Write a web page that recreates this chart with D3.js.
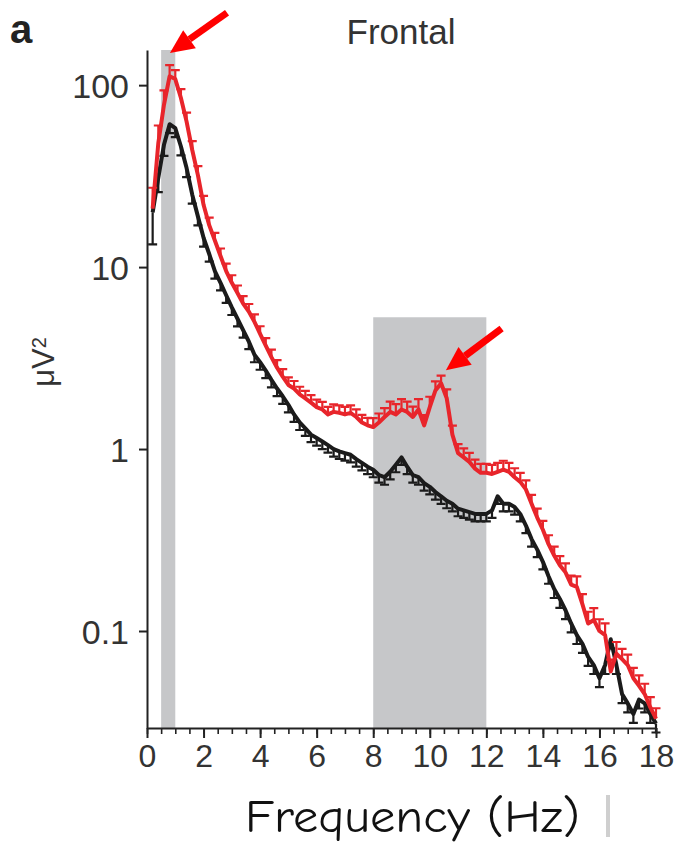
<!DOCTYPE html>
<html>
<head>
<meta charset="utf-8">
<script src="https://cdn.jsdelivr.net/npm/d3@7"></script>
<style>
  body { margin:0; background:#fff; }
  svg { display:block; }
  text { font-family:"Liberation Sans", Arial, Helvetica, sans-serif; }
</style>
</head>
<body>
<script>

// frequency bins (Hz)
var freqs=[0.2,0.4,0.6,0.8,1.0,1.2,1.4,1.6,1.8,2.0,
	2.2,2.4,2.6,2.8,3.0,3.2,3.4,3.6,3.8,4.0,
	4.2,4.4,4.6,4.8,5.0,5.2,5.4,5.6,5.8,6.0,
	6.2,6.4,6.6,6.8,7.0,7.2,7.4,7.6,7.8,8.0,
	8.2,8.4,8.6,8.8,9.0,9.2,9.4,9.6,9.8,10.0,
	10.2,10.4,10.6,10.8,11.0,11.2,11.4,11.6,11.8,12.0,
	12.2,12.4,12.6,12.8,13.0,13.2,13.4,13.6,13.8,14.0,
	14.2,14.4,14.6,14.8,15.0,15.2,15.4,15.6,15.8,16.0,
	16.2,16.4,16.6,16.8,17.0,17.2,17.4,17.6,17.8,18.0];

// red series (uV^2)
var redPower=[21,48,78,112,108,85,63,44,32,22,
	17,14,11.5,9.5,8.2,7.2,6.3,5.7,5.0,4.3,
	3.7,3.2,2.8,2.5,2.25,2.15,2.0,1.9,1.8,1.7,
	1.65,1.55,1.6,1.58,1.55,1.58,1.5,1.4,1.35,1.32,
	1.4,1.5,1.6,1.55,1.65,1.6,1.5,1.65,1.35,1.7,
	2.1,2.3,1.9,1.2,0.95,0.9,0.85,0.78,0.74,0.74,
	0.73,0.75,0.77,0.75,0.7,0.66,0.6,0.5,0.42,0.36,
	0.3,0.26,0.23,0.21,0.18,0.175,0.14,0.11,0.115,0.1,
	0.095,0.06,0.075,0.07,0.065,0.055,0.05,0.045,0.038,0.033];

// relative SEM (upper bars) for red
var redSem=[0.3,0.25,0.2,0.15,0.12,0.12,0.12,0.12,0.12,0.12,
	0.1,0.1,0.1,0.1,0.1,0.1,0.1,0.1,0.1,0.1,
	0.1,0.1,0.1,0.1,0.1,0.1,0.1,0.1,0.1,0.1,
	0.1,0.1,0.1,0.1,0.1,0.1,0.1,0.1,0.1,0.12,
	0.12,0.12,0.14,0.14,0.14,0.14,0.14,0.14,0.14,0.14,
	0.12,0.1,0.12,0.12,0.12,0.12,0.12,0.12,0.12,0.12,
	0.12,0.12,0.12,0.12,0.12,0.12,0.12,0.12,0.12,0.12,
	0.12,0.12,0.12,0.12,0.12,0.14,0.14,0.16,0.16,0.16,
	0.16,0.16,0.16,0.14,0.14,0.14,0.14,0.14,0.14,0.14];

// black series (uV^2)
var blackPower=[20,31,47,61,58,46,35,25,19,14.5,
	11.8,9.5,8.2,7.0,6.0,5.2,4.5,3.9,3.3,3.0,
	2.7,2.4,2.15,1.95,1.75,1.55,1.4,1.3,1.2,1.15,
	1.1,1.05,1.0,0.97,0.95,0.93,0.88,0.84,0.8,0.77,
	0.72,0.7,0.75,0.82,0.9,0.8,0.72,0.7,0.65,0.62,
	0.58,0.55,0.52,0.5,0.47,0.46,0.45,0.44,0.44,0.44,
	0.46,0.55,0.5,0.5,0.48,0.44,0.38,0.32,0.28,0.24,
	0.2,0.17,0.15,0.13,0.11,0.095,0.085,0.072,0.065,0.055,
	0.065,0.09,0.065,0.045,0.04,0.035,0.042,0.04,0.035,0.031];

// relative SEM (lower bars) for black
var blackSem=[0.5,0.2,0.15,0.12,0.12,0.12,0.12,0.12,0.12,0.12,
	0.1,0.1,0.1,0.1,0.1,0.1,0.1,0.1,0.1,0.1,
	0.1,0.1,0.1,0.1,0.1,0.1,0.1,0.1,0.1,0.1,
	0.1,0.1,0.1,0.1,0.1,0.1,0.1,0.1,0.1,0.1,
	0.1,0.1,0.1,0.1,0.1,0.1,0.1,0.1,0.1,0.1,
	0.1,0.1,0.1,0.1,0.1,0.1,0.1,0.1,0.1,0.1,
	0.1,0.1,0.1,0.1,0.1,0.1,0.1,0.1,0.1,0.1,
	0.1,0.12,0.12,0.12,0.12,0.12,0.12,0.12,0.12,0.12,
	0.12,0.12,0.12,0.12,0.12,0.12,0.12,0.12,0.12,0.12];

// shaded bands: [from Hz, to Hz, top uV^2]
var bands=[[0.5,1.0,156],[8,12,5.3]];

var yTicks=[100,10,1,0.1],
	yTickLabels=["100","10","1","0.1"],
	xTicks=[0,2,4,6,8,10,12,14,16,18];

// arrows in data units: [tail f, tail v, tip f, tip v]
var arrows=[[2.83,250,0.81,150],[12.54,4.6,10.57,2.71]];

var WIDTH=679,
	HEIGHT=846;

var svg=d3.select("body")
			.append("svg")
				.attr("width",WIDTH)
				.attr("height",HEIGHT);

var x=d3.scaleLinear().domain([0,18]).range([147,656]),
	y=d3.scaleLog().domain([0.0293,156]).range([728,50]);

// gray bands
svg.append("g").selectAll("rect")
	.data(bands)
	.enter()
		.append("rect")
			.attr("x",function(d){ return x(d[0]); })
			.attr("width",function(d){ return x(d[1])-x(d[0]); })
			.attr("y",function(d){ return y(d[2]); })
			.attr("height",function(d){ return y.range()[0]-y(d[2]); })
			.style("fill","#c6c7c9");

function series(values,sem,color,up){
	var pts=freqs.map(function(f,i){
		return {f:f,v:values[i],e:sem[i]};
	});
	var g=svg.append("g");
	g.selectAll("path.err")
		.data(pts)
		.enter()
			.append("path")
				.attr("class","err")
				.attr("d",function(d){
					var xx=x(d.f),
						y1=y(d.v),
						y2=up ? y(d.v*(1+d.e)) : y(d.v/(1+d.e));
					return "M"+xx+","+y1+"V"+y2+"M"+(xx-4.5)+","+y2+"H"+(xx+4.5);
				})
				.style("stroke",color)
				.style("stroke-width",2.2)
				.style("fill","none");
	g.append("path")
		.datum(pts)
		.attr("d",d3.line()
			.x(function(d){ return x(d.f); })
			.y(function(d){ return y(d.v); }))
		.style("fill","none")
		.style("stroke",color)
		.style("stroke-width",4)
		.style("stroke-linejoin","round");
}

series(blackPower,blackSem,"#1b1b1b",false);
series(redPower,redSem,"#e8252b",true);

// y axis
var yAxis=svg.append("g")
	.attr("transform","translate(147,0)")
	.call(d3.axisLeft(y)
		.tickValues(yTicks)
		.tickFormat(function(d,i){ return yTickLabels[i]; })
		.tickSize(8)
		.tickPadding(10)
		.tickSizeOuter(0));
yAxis.select(".domain").style("stroke","#222").style("stroke-width",2);
yAxis.selectAll(".tick line").style("stroke","#222").style("stroke-width",2);
yAxis.selectAll(".tick text")
	.style("font-size","34px")
	.style("fill","#333")
	.attr("dy","0.36em");

// x axis minor ticks
var xMinor=svg.append("g")
	.attr("transform","translate(0,728)")
	.call(d3.axisBottom(x)
		.tickValues(d3.range(0,18.01,0.5))
		.tickFormat("")
		.tickSize(6)
		.tickSizeOuter(0));
xMinor.select(".domain").remove();
xMinor.selectAll(".tick line").style("stroke","#222").style("stroke-width",1.6);

var xAxis=svg.append("g")
	.attr("transform","translate(0,728)")
	.call(d3.axisBottom(x)
		.tickValues(xTicks)
		.tickSize(10)
		.tickPadding(6)
		.tickSizeOuter(0));
xAxis.select(".domain").style("stroke","#222").style("stroke-width",2);
xAxis.selectAll(".tick line").style("stroke","#222").style("stroke-width",2);
xAxis.selectAll(".tick text")
	.style("font-size","32px")
	.style("fill","#333");

// panel letter and title
svg.append("text")
	.attr("x",10).attr("y",43)
	.style("font-size","40px")
	.style("font-weight","bold")
	.style("fill","#222")
	.text("a");

svg.append("text")
	.attr("x",401).attr("y",44)
	.attr("text-anchor","middle")
	.style("font-size","35px")
	.style("fill","#333")
	.text("Frontal");

// y label
var yl=svg.append("text")
	.attr("transform","translate(54,362) rotate(-90)")
	.attr("text-anchor","middle")
	.style("font-size","31px")
	.style("fill","#333");
yl.append("tspan").text("\u03bcV");
yl.append("tspan").attr("dy","-0.4em").style("font-size","20px").text("2");

// x label
svg.append("text")
	.attr("x",245).attr("y",832)
	.attr("textLength",335)
	.attr("lengthAdjust","spacingAndGlyphs")
	.style("font-family","'Comic Sans MS','Comic Neue',cursive")
	.style("font-size","46px")
	.style("fill","#111")
	.text("Frequency (Hz)");

svg.append("rect")
	.attr("x",606).attr("y",795)
	.attr("width",4).attr("height",42)
	.style("fill","#cfcfcf");

// red arrows
var ag=svg.append("g");
arrows.forEach(function(a){
	var x1=x(a[0]),y1=y(a[1]),x2=x(a[2]),y2=y(a[3]);
	var ang=Math.atan2(y2-y1,x2-x1),
		hl=24,hw=11;
	var bx=x2-hl*Math.cos(ang),
		by=y2-hl*Math.sin(ang);
	ag.append("line")
		.attr("x1",x1).attr("y1",y1)
		.attr("x2",bx).attr("y2",by)
		.style("stroke","#ff0000")
		.style("stroke-width",7);
	ag.append("path")
		.attr("d","M"+x2+","+y2+
			"L"+(bx+hw*Math.sin(ang))+","+(by-hw*Math.cos(ang))+
			"L"+(bx-hw*Math.sin(ang))+","+(by+hw*Math.cos(ang))+"Z")
		.style("fill","#ff0000");
});

</script>
</body>
</html>
